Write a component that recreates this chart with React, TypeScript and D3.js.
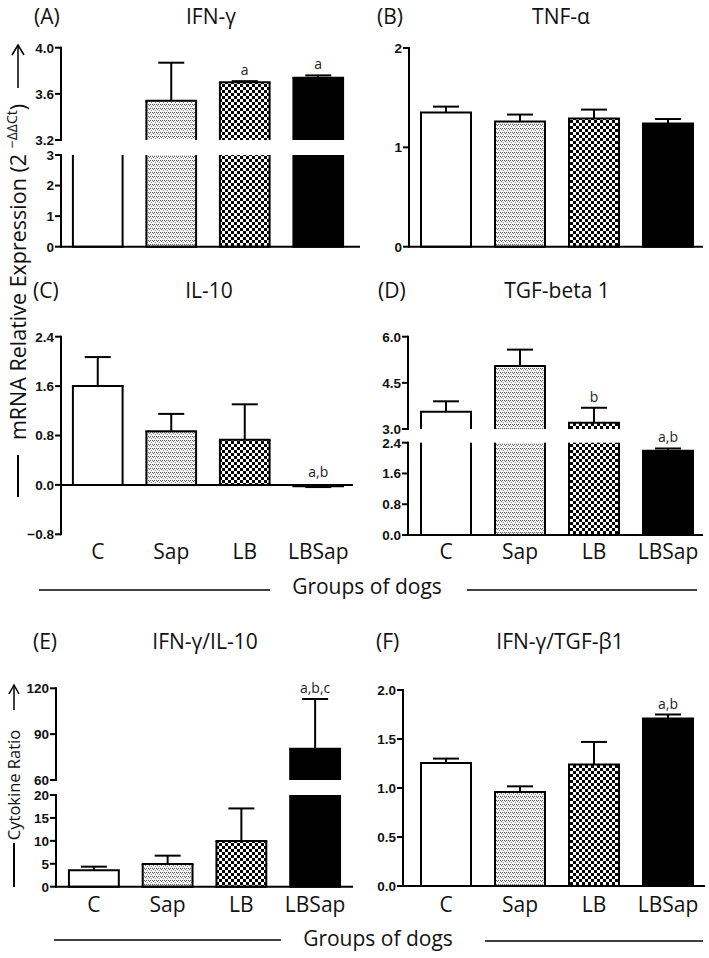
import React from 'react';
import * as d3 from 'd3';

const groups = ['C', 'Sap', 'LB', 'LBSap'];

const ifnMean = [3.1, 3.54, 3.7, 3.74];
const ifnSem = [0.03, 0.33, 0.01, 0.02];
const ifnNotes = ['', '', 'a', 'a'];

const tnfMean = [1.35, 1.26, 1.29, 1.24];
const tnfSem = [0.06, 0.07, 0.09, 0.045];
const tnfNotes = ['', '', '', ''];

const il10Mean = [1.6, 0.87, 0.73, -0.02];
const il10Sem = [0.47, 0.28, 0.575, 0.015];
const il10Notes = ['', '', '', 'a,b'];

const tgfMean = [3.56, 5.05, 3.2, 2.19];
const tgfSem = [0.34, 0.53, 0.49, 0.06];
const tgfNotes = ['', '', 'b', 'a,b'];

const ratioIlMean = [3.6, 4.95, 9.97, 80.5];
const ratioIlSem = [0.77, 1.82, 7.1, 32.5];
const ratioIlNotes = ['', '', '', 'a,b,c'];

const ratioTgfMean = [1.255, 0.96, 1.24, 1.71];
const ratioTgfSem = [0.045, 0.057, 0.23, 0.04];
const ratioTgfNotes = ['', '', '', 'a,b'];

const ticksA_low = [0, 1, 2, 3];
const ticksA_up = [3.2, 3.6, 4.0];
const ticksB = [0, 1, 2];
const ticksC = [-0.8, 0, 0.8, 1.6, 2.4];
const ticksD_low = [0, 0.8, 1.6, 2.4];
const ticksD_up = [3.0, 4.5, 6.0];
const ticksE_low = [0, 5, 10, 15, 20];
const ticksE_up = [60, 90, 120];
const ticksF = [0, 0.5, 1.0, 1.5, 2.0];

const fills = ['#ffffff', 'url(#patSap)', 'url(#patLB)', '#000000'];

type Seg = { lo: number; hi: number; y0: number; y1: number; ticks: number[]; fmt: (v: number) => string };

const TEXT_FONT = "'Open Sans', sans-serif";
const TICK_FONT = "'Liberation Sans', Arial, sans-serif";

function Panel(props: {
  letter: string; title: string; letterX: number; titleX: number; titleY: number;
  axisX: number; band: [number, number]; axisEnd: number; segs: Seg[];
  mean: number[]; sem: number[]; notes: string[]; showX: boolean; labelY?: number;
}) {
  const { letter, title, letterX, titleX, titleY, axisX, band, axisEnd, segs, mean, sem, notes, showX, labelY } = props;
  const x = d3.scaleBand<string>().domain(groups).range(band).paddingInner(0.324).paddingOuter(0.162);
  const bw = x.bandwidth();
  const scales = segs.map(s => d3.scaleLinear().domain([s.lo, s.hi]).range([s.y0, s.y1]));
  const zeroSegIdx = segs.findIndex(s => s.lo <= 0 && s.hi >= 0);
  const y0 = scales[zeroSegIdx](0);
  const capW = 26;

  const barEls: React.ReactNode[] = [];
  groups.forEach((g, i) => {
    const v = mean[i];
    const lo = Math.min(0, v), hi = Math.max(0, v);
    const xl = x(g)!, xr = xl + bw, xc = xl + bw / 2;
    segs.forEach((s, si) => {
      const sc = scales[si];
      const a = Math.max(lo, s.lo), b = Math.min(hi, s.hi);
      if (a >= b) return;
      const yt = sc(b), yb = sc(a);
      barEls.push(<rect key={`f${i}-${si}`} x={xl} y={yt} width={bw} height={yb - yt} fill={fills[i]} />);
      barEls.push(<line key={`l${i}-${si}`} x1={xl} x2={xl} y1={yt} y2={yb} stroke="#000" strokeWidth={2} />);
      barEls.push(<line key={`r${i}-${si}`} x1={xr} x2={xr} y1={yt} y2={yb} stroke="#000" strokeWidth={2} />);
      if (hi <= s.hi) barEls.push(<line key={`t${i}-${si}`} x1={xl - 1} x2={xr + 1} y1={yt} y2={yt} stroke="#000" strokeWidth={2} />);
      if (lo >= s.lo) barEls.push(<line key={`b${i}-${si}`} x1={xl - 1} x2={xr + 1} y1={yb} y2={yb} stroke="#000" strokeWidth={2} />);
    });
    const e = v >= 0 ? v + sem[i] : v - sem[i];
    segs.forEach((s, si) => {
      if (e < s.lo || e > s.hi) return;
      if (v < s.lo - 1e-9 && e > v) return;
      const sc = scales[si];
      const ys = sc(Math.max(s.lo, Math.min(s.hi, v)));
      const ye = sc(e);
      barEls.push(<line key={`ev${i}-${si}`} x1={xc} x2={xc} y1={ys} y2={ye} stroke="#000" strokeWidth={2} />);
      barEls.push(<line key={`ec${i}-${si}`} x1={xc - capW / 2} x2={xc + capW / 2} y1={ye} y2={ye} stroke="#000" strokeWidth={2} />);
    });
    if (notes[i]) {
      const top = Math.max(0, v >= 0 ? v + sem[i] : 0);
      const si = segs.findIndex(s => top >= s.lo && top <= s.hi);
      const yTop = si >= 0 ? scales[si](top) : y0;
      barEls.push(
        <text key={`n${i}`} x={xc} y={yTop - (v >= 0 ? 6 : 8)} textAnchor="middle" fontFamily={TEXT_FONT} fontSize={14} fill="#222">{notes[i]}</text>
      );
    }
  });

  return (
    <g>
      <text x={letterX} y={titleY} fontFamily={TEXT_FONT} fontSize={21} fill="#111">{letter}</text>
      <text x={titleX} y={titleY} textAnchor="middle" fontFamily={TEXT_FONT} fontSize={21} fill="#111">{title}</text>
      {barEls}
      {segs.map((s, si) => {
        const sc = scales[si];
        return (
          <g key={`ax${si}`}>
            <line x1={axisX} x2={axisX} y1={s.y0 + 1} y2={s.y1 - 1} stroke="#000" strokeWidth={2} />
            {s.ticks.map(t => (
              <g key={t}>
                <line x1={axisX - 6} x2={axisX} y1={sc(t)} y2={sc(t)} stroke="#000" strokeWidth={2} />
                <text x={axisX - 7} y={sc(t)} dy="0.36em" textAnchor="end" fontFamily={TICK_FONT} fontWeight="bold" fontSize={13.5} fill="#111">{s.fmt(t)}</text>
              </g>
            ))}
          </g>
        );
      })}
      <line x1={axisX} x2={axisEnd} y1={y0} y2={y0} stroke="#000" strokeWidth={2} />
      {showX && groups.map(g => (
        <text key={g} x={x(g)! + bw / 2} y={labelY} textAnchor="middle" fontFamily={TEXT_FONT} fontSize={21} fill="#111">{g}</text>
      ))}
    </g>
  );
}

const f0 = (v: number) => d3.format('d')(v);
const f1 = (v: number) => d3.format('.1f')(v);

export default function App() {
  return (
    <svg width={709} height={958} style={{ position: 'absolute', left: 0, top: 0, background: '#fff' }}>
      <defs>
        <pattern id="patSap" patternUnits="userSpaceOnUse" width={4} height={4}>
          <rect width={4} height={4} fill="#f4f4f4" />
          <rect x={0} y={0} width={1} height={1} fill="#555" />
          <rect x={2} y={0} width={1} height={1} fill="#555" />
          <rect x={1} y={1} width={1} height={1} fill="#666" />
          <rect x={3} y={2} width={1} height={1} fill="#888" />
        </pattern>
        <pattern id="patLB" patternUnits="userSpaceOnUse" width={6} height={6}>
          <rect width={6} height={6} fill="#fff" />
          <rect x={0} y={0} width={3} height={3} fill="#000" />
          <rect x={3} y={3} width={3} height={3} fill="#000" />
        </pattern>
      </defs>
      <rect width={709} height={958} fill="#fff" />

      <g>
        <line x1={18} x2={18} y1={88} y2={46} stroke="#000" strokeWidth={1.5} />
        <path d="M12,55 L18,45 L24,55" fill="none" stroke="#000" strokeWidth={1.5} />
        <text transform="translate(25.5,272) rotate(-90)" textAnchor="middle" fontFamily={TEXT_FONT} fontSize={21.5} fill="#111">
          mRNA Relative Expression (2 <tspan fontSize={14} dy={-9}>−ΔΔCt</tspan><tspan dy={9}>)</tspan>
        </text>
        <line x1={18} x2={18} y1={455} y2={497} stroke="#000" strokeWidth={2} />
      </g>

      <Panel letter="(A)" title="IFN-γ" letterX={34} titleX={211} titleY={24}
        axisX={61} band={[61, 355]} axisEnd={360}
        segs={[
          { lo: 0, hi: 3, y0: 246.7, y1: 155, ticks: ticksA_low, fmt: f0 },
          { lo: 3.2, hi: 4.0, y0: 140, y1: 47.7, ticks: ticksA_up, fmt: f1 },
        ]}
        mean={ifnMean} sem={ifnSem} notes={ifnNotes} showX={false} />

      <Panel letter="(B)" title="TNF-α" letterX={377} titleX={561} titleY={24}
        axisX={409} band={[409, 705]} axisEnd={703}
        segs={[{ lo: 0, hi: 2, y0: 246.7, y1: 48, ticks: ticksB, fmt: f0 }]}
        mean={tnfMean} sem={tnfSem} notes={tnfNotes} showX={false} />

      <Panel letter="(C)" title="IL-10" letterX={33} titleX={209} titleY={298}
        axisX={61} band={[61, 355]} axisEnd={353}
        segs={[{ lo: -0.8, hi: 2.4, y0: 534.3, y1: 336.7, ticks: ticksC, fmt: f1 }]}
        mean={il10Mean} sem={il10Sem} notes={il10Notes} showX={true} labelY={559} />

      <Panel letter="(D)" title="TGF-beta 1" letterX={378} titleX={557} titleY={298}
        axisX={408} band={[409, 705]} axisEnd={703}
        segs={[
          { lo: 0, hi: 2.4, y0: 535, y1: 442.7, ticks: ticksD_low, fmt: f1 },
          { lo: 3.0, hi: 6.0, y0: 429, y1: 336.7, ticks: ticksD_up, fmt: f1 },
        ]}
        mean={tgfMean} sem={tgfSem} notes={tgfNotes} showX={true} labelY={559} />

      <line x1={39} x2={270} y1={590} y2={590} stroke="#000" strokeWidth={1.4} />
      <line x1={467} x2={697} y1={590} y2={590} stroke="#000" strokeWidth={1.4} />
      <text x={367} y={594} textAnchor="middle" fontFamily={TEXT_FONT} fontSize={21} fill="#111">Groups of dogs</text>

      <g>
        <line x1={14} x2={14} y1={710} y2={686} stroke="#000" strokeWidth={1.5} />
        <path d="M9,694 L14,685 L19,694" fill="none" stroke="#000" strokeWidth={1.5} />
        <text transform="translate(20,785) rotate(-90)" textAnchor="middle" fontFamily={TEXT_FONT} fontSize={16.5} fill="#111">Cytokine Ratio</text>
        <line x1={14} x2={14} y1={843} y2={887} stroke="#000" strokeWidth={2} />
      </g>

      <Panel letter="(E)" title="IFN-γ/IL-10" letterX={33} titleX={205} titleY={649}
        axisX={56} band={[57, 352]} axisEnd={353}
        segs={[
          { lo: 0, hi: 20, y0: 886.7, y1: 795, ticks: ticksE_low, fmt: f0 },
          { lo: 60, hi: 120, y0: 780, y1: 688.3, ticks: ticksE_up, fmt: f0 },
        ]}
        mean={ratioIlMean} sem={ratioIlSem} notes={ratioIlNotes} showX={true} labelY={912} />

      <Panel letter="(F)" title="IFN-γ/TGF-β1" letterX={376} titleX={560} titleY={649}
        axisX={403} band={[409, 705]} axisEnd={705}
        segs={[{ lo: 0, hi: 2, y0: 886, y1: 690, ticks: ticksF, fmt: f1 }]}
        mean={ratioTgfMean} sem={ratioTgfSem} notes={ratioTgfNotes} showX={true} labelY={912} />

      <line x1={54} x2={281} y1={940} y2={940} stroke="#000" strokeWidth={1.4} />
      <line x1={485} x2={703} y1={941} y2={941} stroke="#000" strokeWidth={1.4} />
      <text x={378} y={946} textAnchor="middle" fontFamily={TEXT_FONT} fontSize={21} fill="#111">Groups of dogs</text>
    </svg>
  );
}
